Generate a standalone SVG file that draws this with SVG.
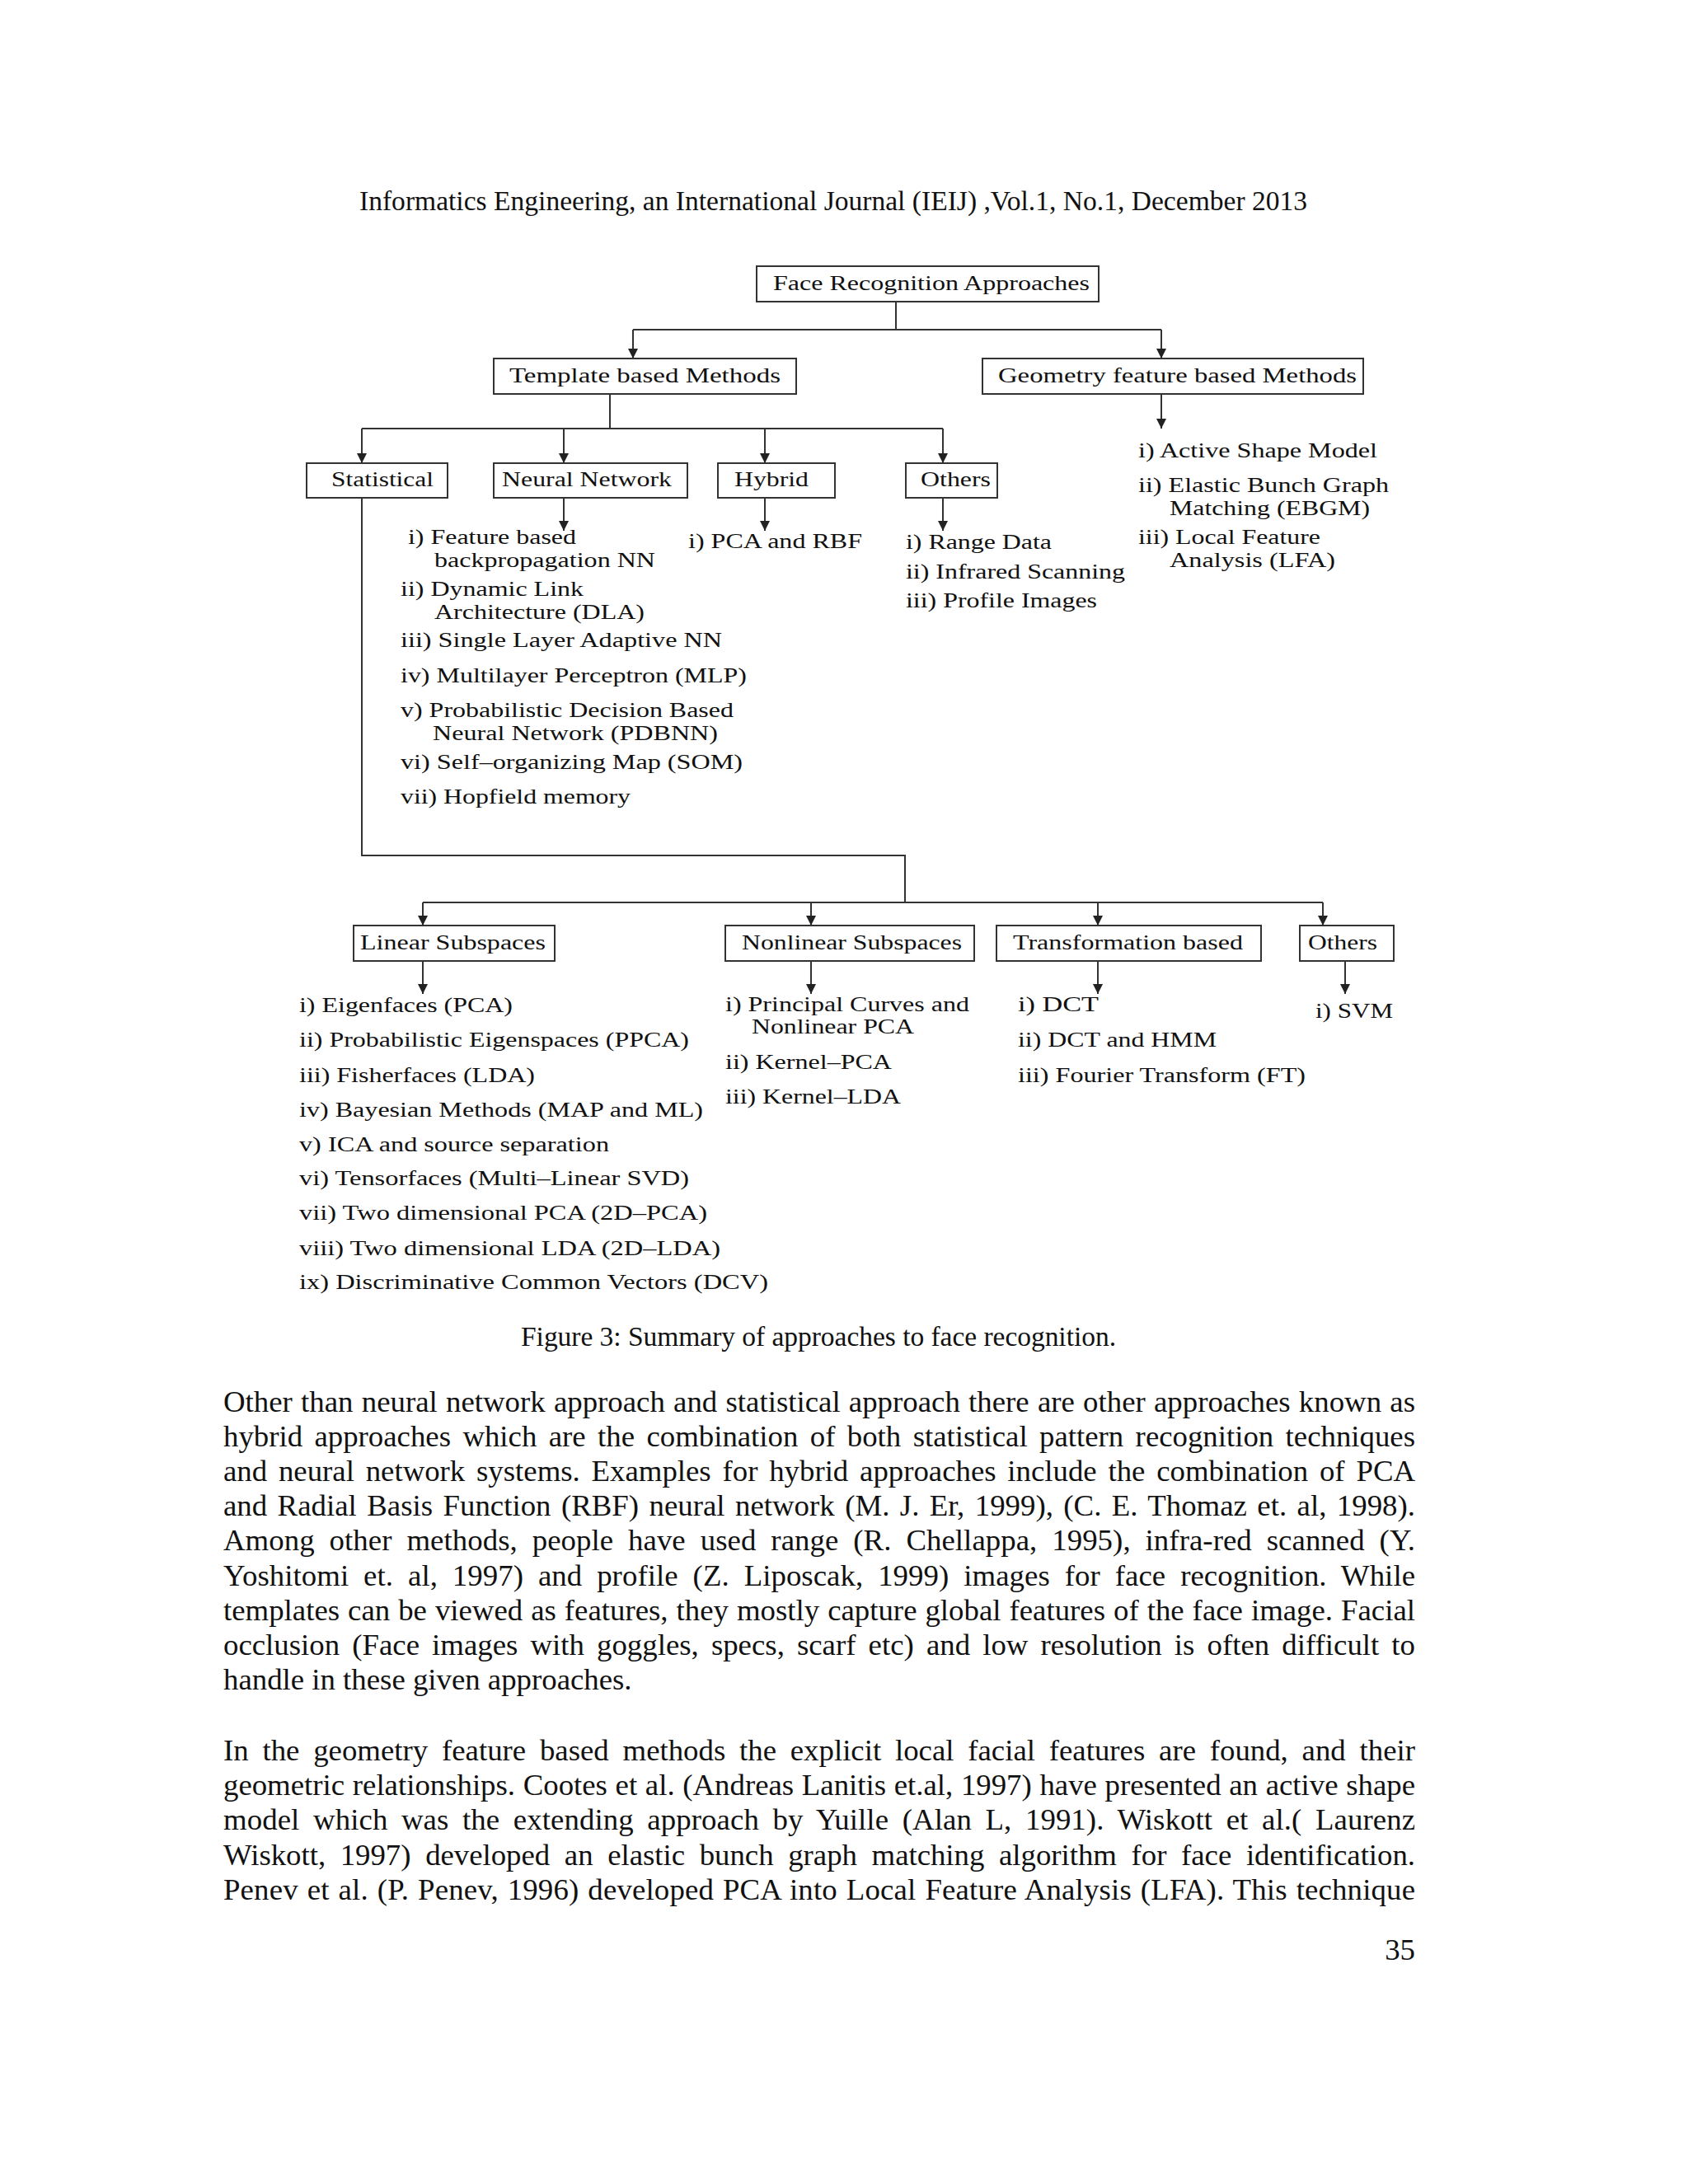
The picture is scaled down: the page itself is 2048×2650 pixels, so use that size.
<svg xmlns="http://www.w3.org/2000/svg" width="2048" height="2650" viewBox="0 0 2048 2650">
<style>
.box{fill:#fff;stroke:#333;stroke-width:2}
.c{fill:none;stroke:#333;stroke-width:2}
.a{fill:none;stroke:#333;stroke-width:2;marker-end:url(#ah)}
text{font-family:"Liberation Serif","Times New Roman",serif;fill:#111}
.lbl{font-size:25.5px}
.it{font-size:24.5px}
.hd{font-size:33.5px}
.bd{font-size:36.8px}
</style>
<defs>
<marker id="ah" viewBox="0 0 12 12" refX="12" refY="6" markerWidth="12" markerHeight="12" markerUnits="userSpaceOnUse" orient="auto">
<path d="M0,0 L12,6 L0,12 z" fill="#222"/>
</marker>
</defs>
<rect width="2048" height="2650" fill="#fff"/>

<text class="hd" x="436" y="255" textLength="1150" lengthAdjust="spacing">Informatics Engineering, an International Journal (IEIJ) ,Vol.1, No.1, December 2013</text>

<g id="connectors">
<path class="c" d="M1087,366 V400"/>
<path class="c" d="M768,400 H1409"/>
<path class="a" d="M768,400 V435"/>
<path class="a" d="M1409,400 V435"/>
<path class="c" d="M740,478 V520"/>
<path class="c" d="M439,520 H1144"/>
<path class="a" d="M439,520 V562"/>
<path class="a" d="M684,520 V562"/>
<path class="a" d="M928,520 V562"/>
<path class="a" d="M1144,520 V562"/>
<path class="a" d="M1409,478 V520"/>
<path class="a" d="M684,604 V644"/>
<path class="a" d="M928,604 V644"/>
<path class="a" d="M1144,604 V644"/>
<path class="c" d="M439,604 V1038 H1098 V1095"/>
<path class="c" d="M513,1095 H1605"/>
<path class="a" d="M513,1095 V1123"/>
<path class="a" d="M984,1095 V1123"/>
<path class="a" d="M1332,1095 V1123"/>
<path class="a" d="M1605,1095 V1123"/>
<path class="a" d="M513,1166 V1206"/>
<path class="a" d="M984,1166 V1206"/>
<path class="a" d="M1332,1166 V1206"/>
<path class="a" d="M1632,1166 V1206"/>
</g>

<g id="n-root"><rect class="box" x="918" y="323" width="415" height="43"/><text class="lbl" x="938" y="352" textLength="384" lengthAdjust="spacingAndGlyphs">Face Recognition Approaches</text></g>
<g id="n-template"><rect class="box" x="599" y="435" width="367" height="43"/><text class="lbl" x="618" y="464" textLength="329" lengthAdjust="spacingAndGlyphs">Template based  Methods</text></g>
<g id="n-geometry"><rect class="box" x="1192" y="435" width="462" height="43"/><text class="lbl" x="1211" y="464" textLength="435" lengthAdjust="spacingAndGlyphs">Geometry feature based  Methods</text></g>

<g id="n-statistical"><rect class="box" x="372" y="562" width="171" height="42"/><text class="lbl" x="402" y="590" textLength="124" lengthAdjust="spacingAndGlyphs">Statistical</text></g>
<g id="n-neural"><rect class="box" x="599" y="562" width="235" height="42"/><text class="lbl" x="609" y="590" textLength="206" lengthAdjust="spacingAndGlyphs">Neural Network</text></g>
<g id="n-hybrid"><rect class="box" x="871" y="562" width="142" height="42"/><text class="lbl" x="891" y="590" textLength="90" lengthAdjust="spacingAndGlyphs">Hybrid</text></g>
<g id="n-others1"><rect class="box" x="1099" y="562" width="111" height="42"/><text class="lbl" x="1117" y="590" textLength="85" lengthAdjust="spacingAndGlyphs">Others</text></g>

<g id="n-neural-list">
<text class="it" x="495" y="660" textLength="204" lengthAdjust="spacingAndGlyphs">i) Feature based</text>
<text class="it" x="527" y="688" textLength="268" lengthAdjust="spacingAndGlyphs">backpropagation NN</text>
<text class="it" x="486" y="723" textLength="222" lengthAdjust="spacingAndGlyphs">ii) Dynamic Link</text>
<text class="it" x="527" y="751" textLength="255" lengthAdjust="spacingAndGlyphs">Architecture (DLA)</text>
<text class="it" x="486" y="785" textLength="390" lengthAdjust="spacingAndGlyphs">iii) Single Layer Adaptive NN</text>
<text class="it" x="486" y="828" textLength="420" lengthAdjust="spacingAndGlyphs">iv) Multilayer Perceptron (MLP)</text>
<text class="it" x="486" y="870" textLength="404" lengthAdjust="spacingAndGlyphs">v) Probabilistic Decision Based</text>
<text class="it" x="525" y="898" textLength="346" lengthAdjust="spacingAndGlyphs">Neural Network (PDBNN)</text>
<text class="it" x="486" y="933" textLength="415" lengthAdjust="spacingAndGlyphs">vi) Self–organizing Map (SOM)</text>
<text class="it" x="486" y="975" textLength="279" lengthAdjust="spacingAndGlyphs">vii) Hopfield memory</text>
</g>
<g id="n-hybrid-list">
<text class="it" x="835" y="665" textLength="211" lengthAdjust="spacingAndGlyphs">i) PCA and RBF</text>
</g>
<g id="n-others1-list">
<text class="it" x="1099" y="666" textLength="177" lengthAdjust="spacingAndGlyphs">i) Range Data</text>
<text class="it" x="1099" y="702" textLength="266" lengthAdjust="spacingAndGlyphs">ii) Infrared Scanning</text>
<text class="it" x="1099" y="737" textLength="232" lengthAdjust="spacingAndGlyphs">iii) Profile Images</text>
</g>
<g id="n-geometry-list">
<text class="it" x="1381" y="555" textLength="290" lengthAdjust="spacingAndGlyphs">i) Active Shape Model</text>
<text class="it" x="1381" y="597" textLength="304" lengthAdjust="spacingAndGlyphs">ii) Elastic Bunch Graph</text>
<text class="it" x="1419" y="625" textLength="243" lengthAdjust="spacingAndGlyphs">Matching (EBGM)</text>
<text class="it" x="1381" y="660" textLength="221" lengthAdjust="spacingAndGlyphs">iii) Local Feature</text>
<text class="it" x="1419" y="688" textLength="201" lengthAdjust="spacingAndGlyphs">Analysis (LFA)</text>
</g>

<g id="n-linear"><rect class="box" x="429" y="1123" width="244" height="43"/><text class="lbl" x="437" y="1152" textLength="225" lengthAdjust="spacingAndGlyphs">Linear Subspaces</text></g>
<g id="n-nonlinear"><rect class="box" x="880" y="1123" width="302" height="43"/><text class="lbl" x="900" y="1152" textLength="267" lengthAdjust="spacingAndGlyphs">Nonlinear Subspaces</text></g>
<g id="n-transform"><rect class="box" x="1209" y="1123" width="321" height="43"/><text class="lbl" x="1229" y="1152" textLength="279" lengthAdjust="spacingAndGlyphs">Transformation based</text></g>
<g id="n-others2"><rect class="box" x="1577" y="1123" width="114" height="43"/><text class="lbl" x="1587" y="1152" textLength="84" lengthAdjust="spacingAndGlyphs">Others</text></g>

<g id="n-linear-list">
<text class="it" x="363" y="1228" textLength="259" lengthAdjust="spacingAndGlyphs">i) Eigenfaces (PCA)</text>
<text class="it" x="363" y="1270" textLength="473" lengthAdjust="spacingAndGlyphs">ii) Probabilistic Eigenspaces (PPCA)</text>
<text class="it" x="363" y="1313" textLength="286" lengthAdjust="spacingAndGlyphs">iii) Fisherfaces (LDA)</text>
<text class="it" x="363" y="1355" textLength="490" lengthAdjust="spacingAndGlyphs">iv) Bayesian Methods (MAP and ML)</text>
<text class="it" x="363" y="1397" textLength="376" lengthAdjust="spacingAndGlyphs">v) ICA and source separation</text>
<text class="it" x="363" y="1438" textLength="473" lengthAdjust="spacingAndGlyphs">vi) Tensorfaces (Multi–Linear SVD)</text>
<text class="it" x="363" y="1480" textLength="495" lengthAdjust="spacingAndGlyphs">vii) Two dimensional PCA (2D–PCA)</text>
<text class="it" x="363" y="1523" textLength="511" lengthAdjust="spacingAndGlyphs">viii) Two dimensional LDA (2D–LDA)</text>
<text class="it" x="363" y="1564" textLength="569" lengthAdjust="spacingAndGlyphs">ix) Discriminative Common Vectors (DCV)</text>
</g>
<g id="n-nonlinear-list">
<text class="it" x="880" y="1227" textLength="296" lengthAdjust="spacingAndGlyphs">i) Principal Curves and</text>
<text class="it" x="912" y="1254" textLength="197" lengthAdjust="spacingAndGlyphs">Nonlinear PCA</text>
<text class="it" x="880" y="1297" textLength="202" lengthAdjust="spacingAndGlyphs">ii) Kernel–PCA</text>
<text class="it" x="880" y="1339" textLength="213" lengthAdjust="spacingAndGlyphs">iii) Kernel–LDA</text>
</g>
<g id="n-transform-list">
<text class="it" x="1235" y="1227" textLength="98" lengthAdjust="spacingAndGlyphs">i)  DCT</text>
<text class="it" x="1235" y="1270" textLength="241" lengthAdjust="spacingAndGlyphs">ii) DCT and HMM</text>
<text class="it" x="1235" y="1313" textLength="349" lengthAdjust="spacingAndGlyphs">iii) Fourier Transform (FT)</text>
</g>
<g id="n-others2-list">
<text class="it" x="1596" y="1235" textLength="94" lengthAdjust="spacingAndGlyphs">i) SVM</text>
</g>

<text class="hd" x="632" y="1633" textLength="722" lengthAdjust="spacing">Figure 3: Summary of approaches to face recognition.</text>

<g id="paragraph1">
<text class="bd" x="271" y="1713" word-spacing="1" textLength="1446" lengthAdjust="spacing">Other than neural network approach and statistical approach there are other approaches known as</text>
<text class="bd" x="271" y="1755" word-spacing="5.2" textLength="1446" lengthAdjust="spacing">hybrid approaches which are the combination of both statistical pattern recognition techniques</text>
<text class="bd" x="271" y="1797" word-spacing="4.6" textLength="1446" lengthAdjust="spacing">and neural network systems. Examples for hybrid approaches include the combination of PCA</text>
<text class="bd" x="271" y="1839" word-spacing="3.2" textLength="1446" lengthAdjust="spacing">and Radial Basis Function (RBF) neural network (M. J. Er, 1999), (C. E. Thomaz et. al, 1998).</text>
<text class="bd" x="271" y="1881" word-spacing="8.7" textLength="1446" lengthAdjust="spacing">Among other methods, people have used range (R. Chellappa, 1995), infra-red scanned (Y.</text>
<text class="bd" x="271" y="1924" word-spacing="8.7" textLength="1446" lengthAdjust="spacing">Yoshitomi et. al, 1997) and profile (Z. Liposcak, 1999) images for face recognition. While</text>
<text class="bd" x="271" y="1966" word-spacing="0.8" textLength="1446" lengthAdjust="spacing">templates can be viewed as features, they mostly capture global features of the face image. Facial</text>
<text class="bd" x="271" y="2008" word-spacing="5.9" textLength="1446" lengthAdjust="spacing">occlusion (Face images with goggles, specs, scarf etc) and low resolution is often difficult to</text>
<text class="bd" x="271" y="2050">handle in these given approaches.</text>
</g>
<g id="paragraph2">
<text class="bd" x="271" y="2136" word-spacing="7.6" textLength="1446" lengthAdjust="spacing">In the geometry feature based methods the explicit local facial features are found, and their</text>
<text class="bd" x="271" y="2178" word-spacing="0.5" textLength="1446" lengthAdjust="spacing">geometric relationships. Cootes et al. (Andreas Lanitis et.al, 1997) have presented an active shape</text>
<text class="bd" x="271" y="2220" word-spacing="7.3" textLength="1446" lengthAdjust="spacing">model which was the extending approach by Yuille (Alan L, 1991). Wiskott et al.( Laurenz</text>
<text class="bd" x="271" y="2263" word-spacing="8.5" textLength="1446" lengthAdjust="spacing">Wiskott, 1997) developed an elastic bunch graph matching algorithm for face identification.</text>
<text class="bd" x="271" y="2305" word-spacing="1.6" textLength="1446" lengthAdjust="spacing">Penev et al. (P. Penev, 1996) developed PCA into Local Feature Analysis (LFA). This technique</text>
</g>
<text class="bd" x="1717" y="2378" text-anchor="end">35</text>
</svg>
